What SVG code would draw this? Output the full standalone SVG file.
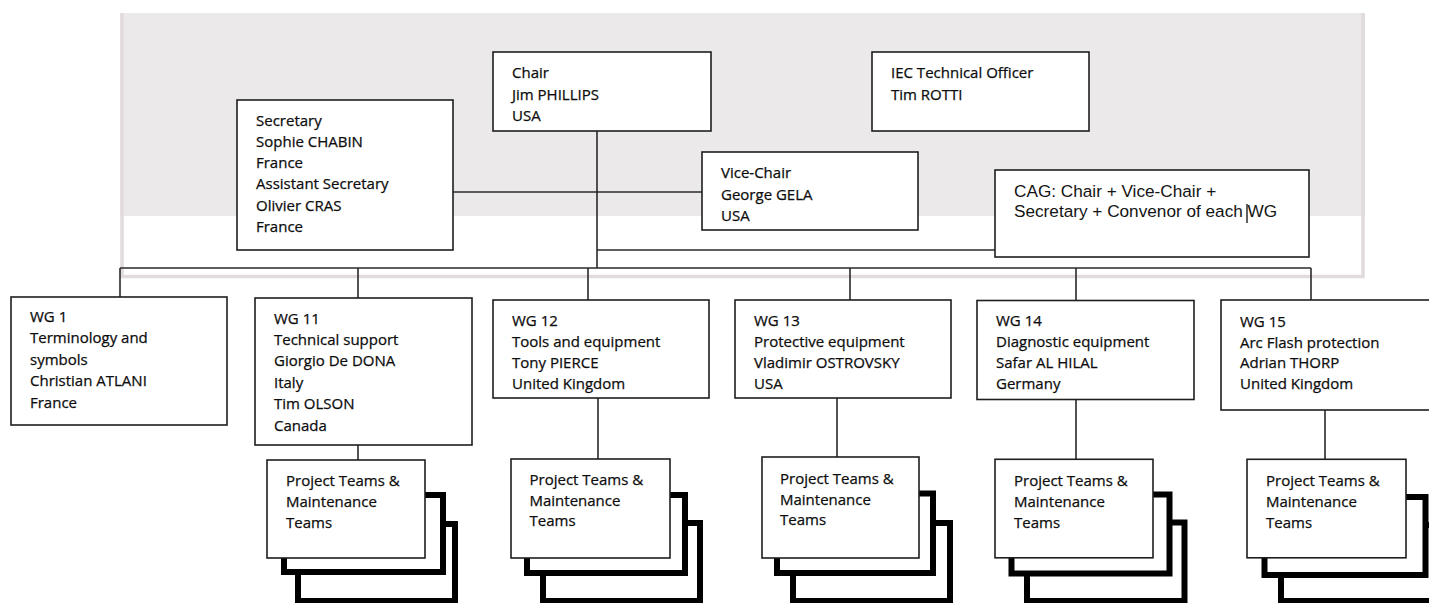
<svg xmlns="http://www.w3.org/2000/svg" width="1429" height="603" viewBox="0 0 1429 603">
<style>
.bx{fill:#fff;stroke:#1e1e1e;stroke-width:1.6}
.sh{fill:#fff;stroke:#000;stroke-width:6}
.t{font-family:"Open Sans","Noto Sans",sans-serif;font-size:15px;fill:#0c0c0c;stroke:#0c0c0c;stroke-width:0.25}
.ta{font-family:"Liberation Sans",Arial,sans-serif;font-size:17.2px;fill:#141414}
.c{fill:none;stroke:#2a2a2a;stroke-width:1.6}
</style>
<rect x="120" y="13" width="1245" height="203" fill="#ebe9e9"/>
<path d="M122,13 V276.5 H1363 V13" fill="none" stroke="#e2dbdc" stroke-width="3.5"/>
<g id="connectors">
<path class="c" d="M597,131 V268"/>
<path class="c" d="M453,192 H702"/>
<path class="c" d="M597,250 H995"/>
<path class="c" d="M120,268 H1311"/>
<path class="c" d="M120,268 V297 M358,268 V298 M588,268 V300 M850,268 V300 M1076,268 V300 M1311,268 V300"/>
<path class="c" d="M358,445 V460 M598,398 V459 M837,398 V457 M1076,399 V459 M1325,410 V459"/>
</g>
<g id="chair">
<rect class="bx" x="493" y="52" width="218" height="79"/>
<text class="t" x="512" y="78">Chair</text>
<text class="t" x="512" y="99.5">Jim PHILLIPS</text>
<text class="t" x="512" y="121">USA</text>
</g>
<g id="iec-officer">
<rect class="bx" x="872" y="52" width="217" height="79"/>
<text class="t" x="891" y="78">IEC Technical Officer</text>
<text class="t" x="891" y="99.5">Tim ROTTI</text>
</g>
<g id="secretary">
<rect class="bx" x="237" y="100" width="216" height="150"/>
<text class="t" x="256" y="125.5">Secretary</text>
<text class="t" x="256" y="146.8">Sophie CHABIN</text>
<text class="t" x="256" y="168.1">France</text>
<text class="t" x="256" y="189.4">Assistant Secretary</text>
<text class="t" x="256" y="210.7">Olivier CRAS</text>
<text class="t" x="256" y="232">France</text>
</g>
<g id="vice-chair">
<rect class="bx" x="702" y="152" width="216" height="78"/>
<text class="t" x="721" y="178">Vice-Chair</text>
<text class="t" x="721" y="199.5">George GELA</text>
<text class="t" x="721" y="220.8">USA</text>
</g>
<g id="cag">
<rect class="bx" x="995" y="170" width="314" height="87"/>
<text class="ta" x="1014" y="196.8">CAG: Chair + Vice-Chair +</text>
<text class="ta" x="1014" y="216.8">Secretary + Convenor of each WG</text>
<path d="M1247,204 V223" stroke="#1e1e1e" stroke-width="1.4"/>
</g>
<g id="wg1">
<rect class="bx" x="11" y="297" width="216" height="128"/>
<text class="t" x="30" y="322">WG 1</text>
<text class="t" x="30" y="343.4">Terminology and</text>
<text class="t" x="30" y="364.8">symbols</text>
<text class="t" x="30" y="386.2">Christian ATLANI</text>
<text class="t" x="30" y="407.6">France</text>
</g>
<g id="wg11">
<rect class="bx" x="255" y="298" width="217" height="147"/>
<text class="t" x="274" y="323.6">WG 11</text>
<text class="t" x="274" y="345">Technical support</text>
<text class="t" x="274" y="366.4">Giorgio De DONA</text>
<text class="t" x="274" y="387.8">Italy</text>
<text class="t" x="274" y="409.2">Tim OLSON</text>
<text class="t" x="274" y="430.6">Canada</text>
</g>
<g id="wg12">
<rect class="bx" x="493" y="300" width="216" height="98"/>
<text class="t" x="512" y="326.3">WG 12</text>
<text class="t" x="512" y="347.3">Tools and equipment</text>
<text class="t" x="512" y="368.3">Tony PIERCE</text>
<text class="t" x="512" y="389.3">United Kingdom</text>
</g>
<g id="wg13">
<rect class="bx" x="735" y="300" width="216" height="98"/>
<text class="t" x="754" y="326.3">WG 13</text>
<text class="t" x="754" y="347.3">Protective equipment</text>
<text class="t" x="754" y="368.3">Vladimir OSTROVSKY</text>
<text class="t" x="754" y="389.3">USA</text>
</g>
<g id="wg14">
<rect class="bx" x="977" y="300.5" width="217" height="99"/>
<text class="t" x="996" y="326.3">WG 14</text>
<text class="t" x="996" y="347.3">Diagnostic equipment</text>
<text class="t" x="996" y="368.3">Safar AL HILAL</text>
<text class="t" x="996" y="389.3">Germany</text>
</g>
<g id="wg15">
<rect class="bx" x="1221" y="300" width="230" height="110"/>
<text class="t" x="1240" y="326.8">WG 15</text>
<text class="t" x="1240" y="347.6">Arc Flash protection</text>
<text class="t" x="1240" y="368.4">Adrian THORP</text>
<text class="t" x="1240" y="389.2">United Kingdom</text>
</g>
<g id="pt-wg11">
<rect class="sh" x="298" y="524" width="157" height="77"/>
<rect class="sh" x="284" y="495" width="159" height="77"/>
<rect class="bx" x="267" y="460" width="158" height="98"/>
<text class="t" x="286" y="486">Project Teams &amp;</text>
<text class="t" x="286" y="507.2">Maintenance</text>
<text class="t" x="286" y="528.4">Teams</text>
</g>
<g id="pt-wg12">
<rect class="sh" x="543" y="523" width="157" height="78"/>
<rect class="sh" x="527" y="495" width="158" height="78"/>
<rect class="bx" x="511" y="459" width="159" height="99"/>
<text class="t" x="529.5" y="485">Project Teams &amp;</text>
<text class="t" x="529.5" y="505.8">Maintenance</text>
<text class="t" x="529.5" y="526.4">Teams</text>
</g>
<g id="pt-wg13">
<rect class="sh" x="793" y="523" width="157" height="78"/>
<rect class="sh" x="777" y="493.5" width="156" height="79.5"/>
<rect class="bx" x="762" y="457" width="157" height="101"/>
<text class="t" x="780" y="483.7">Project Teams &amp;</text>
<text class="t" x="780" y="504.6">Maintenance</text>
<text class="t" x="780" y="525.2">Teams</text>
</g>
<g id="pt-wg14">
<rect class="sh" x="1027" y="522.5" width="157.5" height="78.5"/>
<rect class="sh" x="1011.5" y="494.5" width="158" height="79"/>
<rect class="bx" x="995" y="459.3" width="158" height="98.5"/>
<text class="t" x="1014" y="486">Project Teams &amp;</text>
<text class="t" x="1014" y="507.2">Maintenance</text>
<text class="t" x="1014" y="528.4">Teams</text>
</g>
<g id="pt-wg15">
<rect class="sh" x="1281" y="525" width="160" height="76"/>
<rect class="sh" x="1264.5" y="497" width="161" height="78"/>
<rect class="bx" x="1247" y="459.3" width="159" height="98.5"/>
<text class="t" x="1266" y="486">Project Teams &amp;</text>
<text class="t" x="1266" y="507.2">Maintenance</text>
<text class="t" x="1266" y="528.4">Teams</text>
</g>
</svg>
